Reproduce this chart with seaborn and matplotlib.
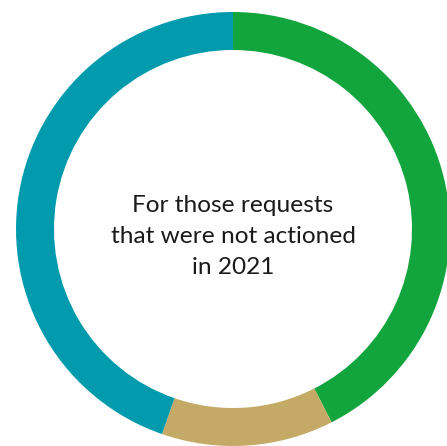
import matplotlib
matplotlib.use("Agg")
import matplotlib.pyplot as plt
import seaborn as sns

categories = ["Green", "Tan", "Teal"]
values = [42.5, 12.8, 44.7]
colors = ["#13A53D", "#C4AA66", "#019BAD"]
center_text = "For those requests\nthat were not actioned\nin 2021"

sns.set_style("white")
plt.rcParams['font.family'] = ['Lato', 'DejaVu Sans']

W, H = 447, 446
fig = plt.figure(figsize=(W / 100, H / 100), dpi=100)
cx, cy, r = 233, 229, 217
ax = fig.add_axes([(cx - r) / W, (H - cy - r) / H, 2 * r / W, 2 * r / H])
ax.pie(values, colors=sns.color_palette(colors), startangle=90, counterclock=False,
       radius=1.0, wedgeprops=dict(width=38 / 217, linewidth=0))
ax.set_xlim(-1, 1)
ax.set_ylim(-1, 1)
ax.set_aspect("equal")
ax.axis("off")
ax.text(0, -0.035, center_text, ha="center", va="center", fontsize=17.6,
        color="#1a1a1a", linespacing=1.58, multialignment="center")
fig.savefig("out.png", dpi=100, facecolor="white")
